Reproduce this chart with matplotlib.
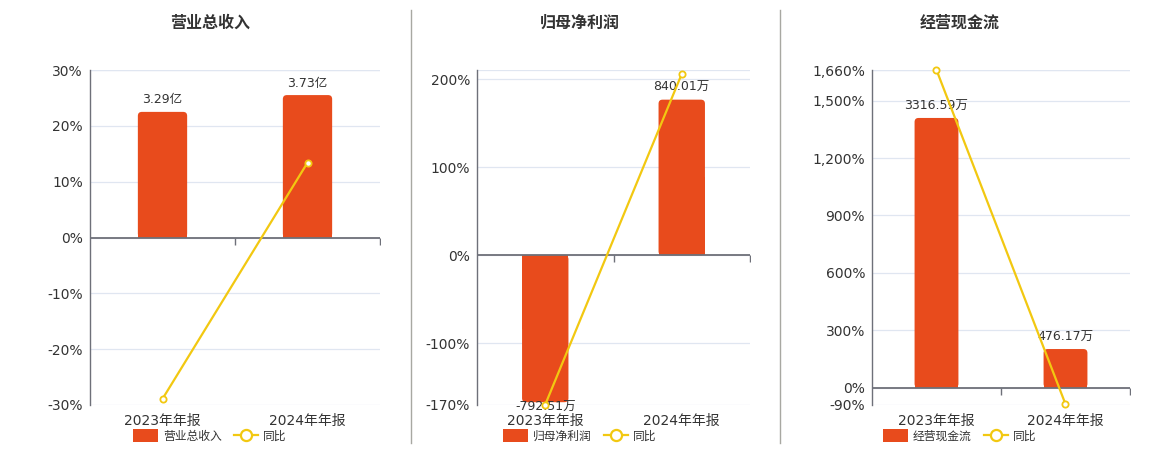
import matplotlib
matplotlib.use("Agg")
import matplotlib.pyplot as plt
import matplotlib.markers as mmarkers
from matplotlib.lines import Line2D
from matplotlib.patches import Patch, FancyBboxPatch, Rectangle
from matplotlib.ticker import FuncFormatter

plt.rcParams['font.family'] = ['DejaVu Sans', 'Noto Sans CJK SC']

# data
periods = ['2023年年报', '2024年年报']

titles = ['营业总收入', '归母净利润', '经营现金流']

revenue = [3.29, 3.73]            # 亿
revenue_labels = ['3.29亿', '3.73亿']
revenue_yoy = [-28.9, 13.4]       # %

profit = [-792.51, 840.01]        # 万
profit_labels = ['-792.51万', '840.01万']
profit_yoy = [-169.5, 206.0]

cashflow = [3316.59, 476.17]      # 万
cashflow_labels = ['3316.59万', '476.17万']
cashflow_yoy = [1660.0, -85.6]

yoy_ticks = [
    [30, 20, 10, 0, -10, -20, -30],
    [200, 100, 0, -100, -170],
    [1660, 1500, 1200, 900, 600, 300, 0, -90],
]
yoy_limits = [(-30, 30), (-170, 210.5), (-90, 1660)]
bar_tops = [4.387, 1000, 3906]   # bar axis max, zero aligned with yoy axis

BAR = '#E84B1C'
LINE = '#F2C811'
GRID = '#E0E6F1'
AXIS = '#6E7079'
TXT = '#333333'

W, H = 1160, 450
fig = plt.figure(figsize=(W / 100, H / 100), dpi=100)

# axes rectangles in pixels: left, right, top, bottom
boxes = [(90, 380, 70, 405), (477, 750, 70, 405), (872, 1130, 70, 405)]
centers = [210, 580, 960]

panels = [
    (revenue, revenue_labels, revenue_yoy),
    (profit, profit_labels, profit_yoy),
    (cashflow, cashflow_labels, cashflow_yoy),
]

x = [0, 1]
bar_w = 0.34


def rounded_bar(axb, xc, v, width, radius_px, aw, ah):
    '''bar with rounded outer end, square at the zero line'''
    lo, hi = axb.get_ylim()
    ux = aw / 2.0          # px per x unit
    uy = ah / (hi - lo)    # px per y unit
    r = radius_px / ux
    aspect = ux / uy
    axb.add_patch(FancyBboxPatch((xc - width / 2, min(0, v)), width, abs(v),
                                 boxstyle=f'round,pad=0,rounding_size={r}',
                                 mutation_aspect=aspect, facecolor=BAR,
                                 edgecolor='none', zorder=2))
    axb.add_patch(Rectangle((xc - width / 2, min(0, v / 2)), width, abs(v) / 2,
                            facecolor=BAR, edgecolor='none', zorder=2))


for i, (vals, labels, yoy) in enumerate(panels):
    l, r, t, b = boxes[i]
    ax = fig.add_axes([l / W, 1 - b / H, (r - l) / W, (b - t) / H])
    lo, hi = yoy_limits[i]
    ax.set_ylim(lo, hi)
    ax.set_xlim(-0.5, 1.5)
    ax.set_yticks(yoy_ticks[i])
    ax.yaxis.set_major_formatter(FuncFormatter(lambda v, p: f'{v:,.0f}%'))
    ax.tick_params(axis='y', length=0, labelsize=10, labelcolor=TXT, pad=5)
    ax.set_xticks(x)
    ax.set_xticklabels(periods)
    ax.tick_params(axis='x', length=0, labelsize=10, labelcolor=TXT, pad=6.5)
    ax.grid(axis='y', color=GRID, linewidth=0.9)
    ax.axhline(hi, color=GRID, linewidth=0.9)
    ax.set_axisbelow(True)
    for s in ['top', 'right', 'bottom']:
        ax.spines[s].set_visible(False)
    ax.spines['left'].set_color(AXIS)
    ax.spines['left'].set_linewidth(1.0)

    # bars on their own scale
    axb = ax.twinx()
    top = bar_tops[i]
    axb.set_ylim(top * lo / hi, top)
    axb.set_xlim(-0.5, 1.5)
    axb.axis('off')
    for xi, v in zip(x, vals):
        rounded_bar(axb, xi, v, bar_w, 4, r - l, b - t)
    for xi, v, s in zip(x, vals, labels):
        if v >= 0:
            axb.annotate(s, (xi, v), xytext=(0, 4), textcoords='offset points',
                         ha='center', va='bottom', fontsize=9, color=TXT,
                         annotation_clip=False)
        else:
            axb.annotate(s, (xi, v), xytext=(0, 1), textcoords='offset points',
                         ha='center', va='top', fontsize=9, color=TXT,
                         annotation_clip=False)
    axb.axhline(0, color=AXIS, linewidth=1.3, zorder=3)
    axb.plot([0.5, 1.5], [0, 0], linestyle='none', marker=mmarkers.TICKDOWN,
             markersize=5, color=AXIS, markeredgewidth=1.0, zorder=3)

    # yoy line on top
    axl = ax.twinx()
    axl.set_ylim(lo, hi)
    axl.set_xlim(-0.5, 1.5)
    axl.axis('off')
    axl.plot(x, yoy, color=LINE, linewidth=1.6, marker='o', markersize=4.5,
             markerfacecolor='white', markeredgecolor=LINE, markeredgewidth=1.3,
             clip_on=False)

    fig.text(centers[i] / W, 1 - 23 / H, titles[i], ha='center', va='center',
             fontsize=11.5, fontweight='bold', color=TXT)

    handles = [
        Patch(facecolor=BAR, edgecolor='none', label=titles[i]),
        Line2D([0], [0], color=LINE, linewidth=1.6, marker='o', markersize=8,
               markerfacecolor='white', markeredgecolor=LINE, markeredgewidth=1.6,
               label='同比'),
    ]
    fig.legend(handles=handles, loc='center', bbox_to_anchor=(centers[i] / W, 1 - 436 / H),
               ncol=2, frameon=False, fontsize=8.5, handlelength=2.1, handleheight=1.2,
               handletextpad=0.4, columnspacing=1.0, labelcolor=TXT)

# panel dividers
for xd in [411, 780]:
    fig.add_artist(Line2D([xd / W, xd / W], [1 - 10 / H, 1 - 443 / H],
                          color='#A8A8A2', linewidth=1.0))

fig.savefig('out.png', dpi=100)
